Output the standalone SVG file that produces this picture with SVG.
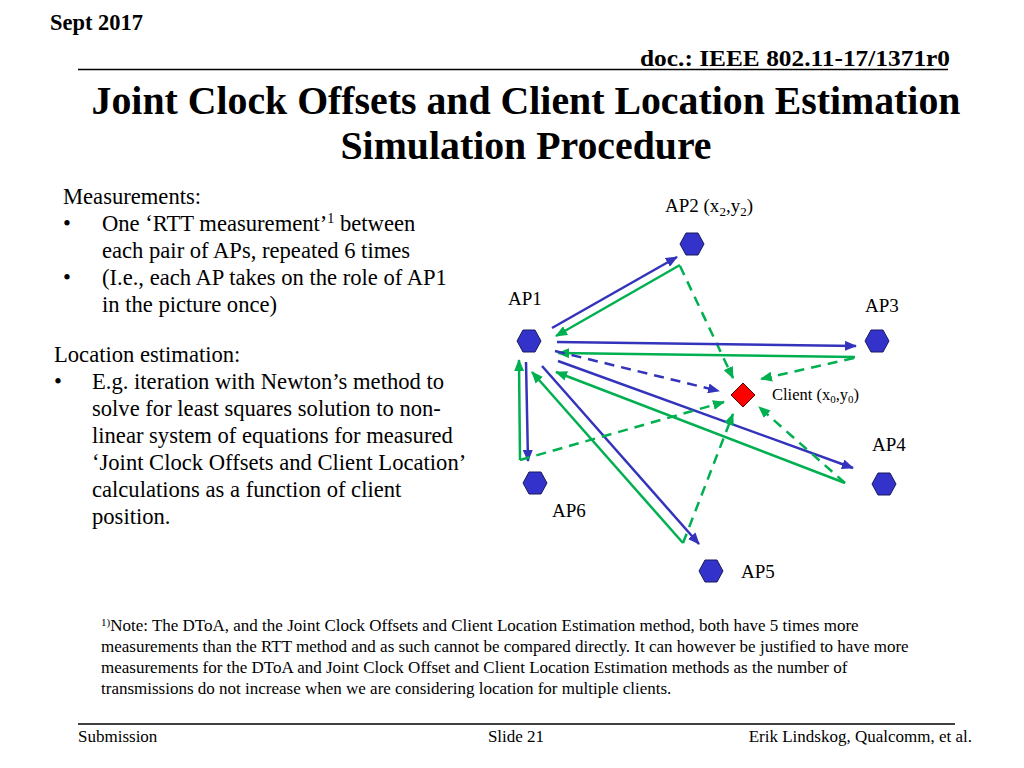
<svg xmlns="http://www.w3.org/2000/svg" width="1024" height="768" viewBox="0 0 1024 768">
<style>
.t{font-family:"Liberation Serif","Times New Roman",serif;fill:#000}
.hdr{font-weight:bold;font-size:23px}
.title{font-weight:bold;font-size:39.8px}
.body{font-size:22.6px}
.lbl{font-size:19px}
.sm{font-size:16.5px}
.foot{font-size:17px}
.ft{font-size:17px}
.ap{fill:#3333cc;stroke:#1a1a5e;stroke-width:1}
.b{stroke:#3333bb;stroke-width:2.5;fill:none}
.g{stroke:#00b050;stroke-width:2.5;fill:none}
.d{stroke-dasharray:10,7}
</style>
<defs>
<marker id="ab" markerUnits="userSpaceOnUse" markerWidth="12" markerHeight="10" refX="11" refY="5" orient="auto"><path d="M0,0 L12,5 L0,10 z" fill="#3333bb"/></marker>
<marker id="ag" markerUnits="userSpaceOnUse" markerWidth="12" markerHeight="10" refX="11" refY="5" orient="auto"><path d="M0,0 L12,5 L0,10 z" fill="#00b050"/></marker>
</defs>
<rect width="1024" height="768" fill="#fff"/>
<!-- header -->
<text class="t hdr" x="50" y="30" textLength="93" lengthAdjust="spacingAndGlyphs">Sept 2017</text>
<text class="t hdr" x="640" y="66" textLength="310" lengthAdjust="spacingAndGlyphs">doc.: IEEE 802.11-17/1371r0</text>
<line x1="78" y1="69.5" x2="948" y2="69.5" stroke="#000" stroke-width="1.5"/>
<text class="t title" x="526" y="114" text-anchor="middle">Joint Clock Offsets and Client Location Estimation</text>
<text class="t title" x="526" y="159" text-anchor="middle">Simulation Procedure</text>
<!-- left text -->
<g class="t body">
<text x="63" y="204">Measurements:</text>
<text x="63" y="231">•</text><text x="102" y="231">One ‘RTT measurement’<tspan font-size="14" dy="-8">1</tspan><tspan dy="8"> between</tspan></text>
<text x="102" y="258">each pair of APs, repeated 6 times</text>
<text x="63" y="285">•</text><text x="102" y="285">(I.e., each AP takes on the role of AP1</text>
<text x="102" y="312">in the picture once)</text>
<text x="54" y="362">Location estimation:</text>
<text x="54" y="389">•</text><text x="92" y="389">E.g. iteration with Newton’s method to</text>
<text x="92" y="416">solve for least squares solution to non-</text>
<text x="92" y="443">linear system of equations for measured</text>
<text x="92" y="470">‘Joint Clock Offsets and Client Location’</text>
<text x="92" y="497">calculations as a function of client</text>
<text x="92" y="524">position.</text>
</g>
<!-- connectors -->
<g id="connectors">
<line class="b" x1="552" y1="328" x2="677" y2="257" marker-end="url(#ab)"/>
<line class="g" x1="680" y1="265" x2="556" y2="336" marker-end="url(#ag)"/>
<line class="g d" x1="680" y1="266" x2="733" y2="378" marker-end="url(#ag)"/>
<line class="b" x1="557" y1="342" x2="856" y2="346" marker-end="url(#ab)"/>
<line class="g" x1="855" y1="357" x2="558" y2="353" marker-end="url(#ag)"/>
<line class="g d" x1="854" y1="358" x2="761" y2="379" marker-end="url(#ag)"/>
<line class="b d" x1="555" y1="351" x2="719" y2="391" marker-end="url(#ab)"/>
<line class="b" x1="558" y1="361" x2="853" y2="468" marker-end="url(#ab)"/>
<line class="g" x1="845" y1="483" x2="556" y2="372" marker-end="url(#ag)"/>
<line class="g d" x1="845" y1="483" x2="759" y2="407" marker-end="url(#ag)"/>
<line class="b" x1="542" y1="366" x2="699" y2="544" marker-end="url(#ab)"/>
<line class="g" x1="683" y1="543" x2="532" y2="372" marker-end="url(#ag)"/>
<line class="g d" x1="683" y1="543" x2="733" y2="414" marker-end="url(#ag)"/>
<line class="b" x1="526" y1="362" x2="528" y2="461" marker-end="url(#ab)"/>
<line class="g" x1="520" y1="460" x2="519" y2="360" marker-end="url(#ag)"/>
<line class="g d" x1="520" y1="460" x2="724" y2="402" marker-end="url(#ag)"/>
</g>
<!-- nodes -->
<g id="ap1"><polygon class="ap" points="517,341 523,330 535,330 541,341 535,352 523,352"/><text class="t lbl" x="508" y="305">AP1</text></g>
<g id="ap2"><polygon class="ap" points="680,244 686,233 698,233 704,244 698,255 686,255"/><text class="t lbl" x="665" y="212">AP2 (x<tspan font-size="13" dy="4">2</tspan><tspan dy="-4">,y</tspan><tspan font-size="13" dy="4">2</tspan><tspan dy="-4">)</tspan></text></g>
<g id="ap3"><polygon class="ap" points="865,341 871,330 883,330 889,341 883,352 871,352"/><text class="t lbl" x="865" y="312">AP3</text></g>
<g id="ap4"><polygon class="ap" points="872,484 878,473 890,473 896,484 890,495 878,495"/><text class="t lbl" x="872" y="451">AP4</text></g>
<g id="ap5"><polygon class="ap" points="699,571 705,560 717,560 723,571 717,582 705,582"/><text class="t lbl" x="741" y="578">AP5</text></g>
<g id="ap6"><polygon class="ap" points="523,483 529,472 541,472 547,483 541,494 529,494"/><text class="t lbl" x="552" y="517">AP6</text></g>
<g id="client"><polygon points="743,383 755,395 743,407 731,395" fill="#ff0000" stroke="#5a0000" stroke-width="1"/><text class="t sm" x="772" y="400">Client (x<tspan font-size="11" dy="3">0</tspan><tspan dy="-3">,y</tspan><tspan font-size="11" dy="3">0</tspan><tspan dy="-3">)</tspan></text></g>
<!-- footnote -->
<g class="t foot">
<text x="101" y="631"><tspan font-size="11" dy="-5">1)</tspan><tspan dy="5">Note: The DToA, and the Joint Clock Offsets and Client Location Estimation method, both have 5 times more</tspan></text>
<text x="101" y="652">measurements than the RTT method and as such cannot be compared directly. It can however be justified to have more</text>
<text x="101" y="673">measurements for the DToA and Joint Clock Offset and Client Location Estimation methods as the number of</text>
<text x="101" y="694">transmissions do not increase when we are considering location for multiple clients.</text>
</g>
<!-- footer -->
<line x1="78" y1="724" x2="955" y2="724" stroke="#000" stroke-width="1.5"/>
<text class="t ft" x="78" y="742">Submission</text>
<text class="t ft" x="516" y="742" text-anchor="middle">Slide 21</text>
<text class="t ft" x="972" y="742" text-anchor="end">Erik Lindskog, Qualcomm, et al.</text>
</svg>
